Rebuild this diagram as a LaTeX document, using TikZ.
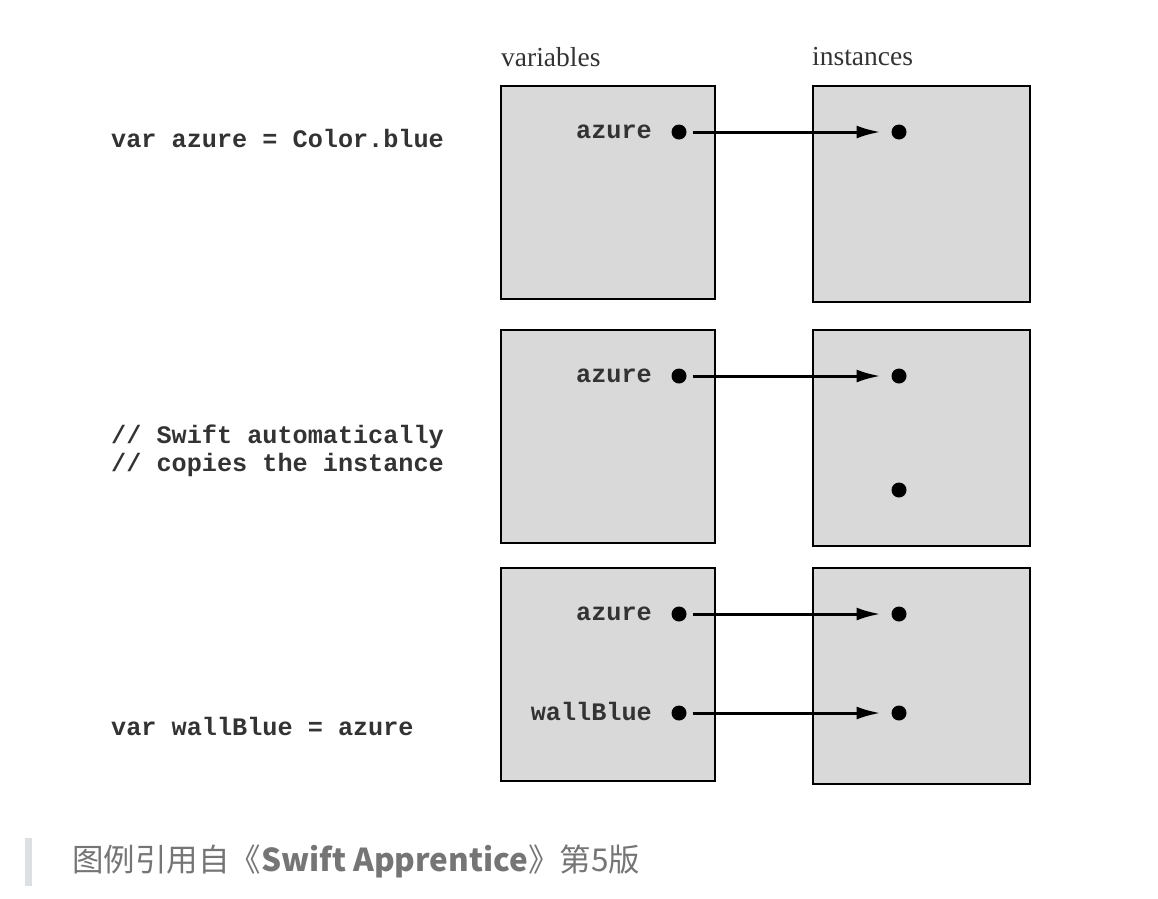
\documentclass[tikz,border=0pt]{standalone}
\usepackage{fontspec}
\setmainfont{Liberation Serif}
\setmonofont{Liberation Mono}
\newfontfamily\cjk{Noto Sans CJK SC}
\usetikzlibrary{arrows.meta}
\definecolor{boxgray}{HTML}{D9D9D9}
\definecolor{codegray}{HTML}{333333}
\definecolor{capgray}{HTML}{757575}
\definecolor{bargray}{HTML}{DDE0E3}
\tikzset{
  memframe/.style={draw=black, fill=boxgray, line width=2.5pt, anchor=north west, inner sep=0pt, outer sep=0pt},
  dotnode/.style={circle, fill=black, inner sep=0pt, minimum size=15pt, outer sep=0pt},
  code/.style={font=\ttfamily\bfseries\fontsize{25.2}{28}\selectfont, text=codegray, inner sep=0pt},
  varlabel/.style={code, anchor=east},
  header/.style={font=\fontsize{27.5}{32}\selectfont, text=codegray, anchor=west, inner sep=0pt},
  ptr/.style={line width=3pt, -{Latex[length=24pt,width=13pt]}, shorten <=6pt, shorten >=11pt},
}
\begin{document}
\begin{tikzpicture}[x=1pt,y=-1pt]
\useasboundingbox (0,0) rectangle (1158,898);
% headers
\node[header] (hvar) at (501,57) {variables};
\node[header] (hinst) at (812,57) {instances};
% boxes
\node[memframe, minimum width=214pt, minimum height=213pt] (v1) at (501,86) {};
\node[memframe, minimum width=217pt, minimum height=216pt] (i1) at (813,86) {};
\node[memframe, minimum width=214pt, minimum height=213pt] (v2) at (501,330) {};
\node[memframe, minimum width=217pt, minimum height=216pt] (i2) at (813,330) {};
\node[memframe, minimum width=214pt, minimum height=213pt] (v3) at (501,568) {};
\node[memframe, minimum width=217pt, minimum height=216pt] (i3) at (813,568) {};
% code
\node[code, anchor=west] (c1) at (111,138) {var azure = Color.blue};
\node[code, anchor=west, align=left] (c2) at (111,451) {// Swift automatically\\// copies the instance};
\node[code, anchor=west] (c3) at (111,726) {var wallBlue = azure};
% row 1
\node[varlabel] (l1) at (652,132) {azure};
\node[dotnode] (d1) at (679,132) {};
\node[dotnode] (t1) at (899,132) {};
\draw[ptr] (d1) -- (t1);
% row 2
\node[varlabel] (l2) at (652,376) {azure};
\node[dotnode] (d2) at (679,376) {};
\node[dotnode] (t2) at (899,376) {};
\node[dotnode] (t2b) at (899,490) {};
\draw[ptr] (d2) -- (t2);
% row 3
\node[varlabel] (l3) at (652,614) {azure};
\node[dotnode] (d3) at (679,614) {};
\node[dotnode] (t3) at (899,614) {};
\draw[ptr] (d3) -- (t3);
\node[varlabel] (l4) at (652,711) {wallBlue};
\node[dotnode] (d4) at (679,713) {};
\node[dotnode] (t4) at (899,713) {};
\draw[ptr] (d4) -- (t4);
% caption
\fill[bargray] (25,838) rectangle (32,886);
\node[anchor=west, inner sep=0pt, text=capgray, font=\cjk\fontsize{31.5}{36}\selectfont] (cap) at (72,861) {图例引用自《\textbf{Swift Apprentice}》第5版};
\end{tikzpicture}
\end{document}
